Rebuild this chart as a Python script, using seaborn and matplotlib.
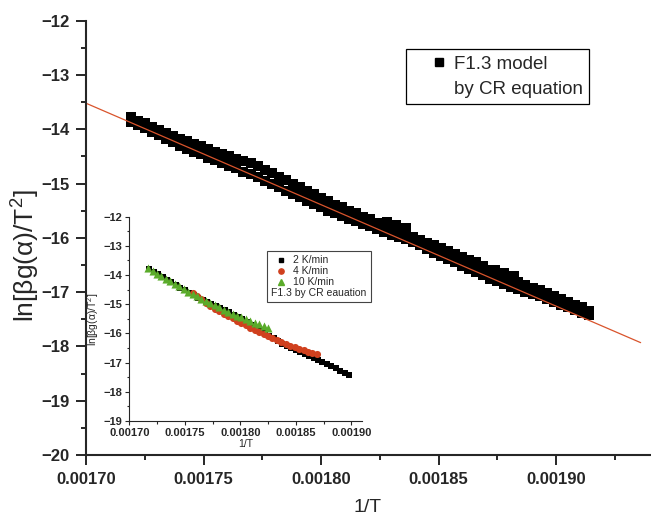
import seaborn as sns
import pandas as pd
import matplotlib.pyplot as plt
from matplotlib.lines import Line2D
from matplotlib.ticker import MultipleLocator, FormatStrFormatter

# ---- main plot data (F1.3 model, CR equation) ----
main_x = [0.001719, 0.001722, 0.001725, 0.001728, 0.001731, 0.001734, 0.001737, 0.001740, 0.001743, 0.001746,
          0.001749, 0.001752, 0.001755, 0.001758, 0.001761, 0.001764, 0.001767, 0.001770, 0.001773, 0.001776,
          0.001779, 0.001782, 0.001785, 0.001788, 0.001791, 0.001794, 0.001797, 0.001800, 0.001803, 0.001806,
          0.001809, 0.001812, 0.001815, 0.001818, 0.001821, 0.001824, 0.001827, 0.001830, 0.001833, 0.001836,
          0.001839, 0.001842, 0.001845, 0.001848, 0.001851, 0.001854, 0.001857, 0.001860, 0.001863, 0.001866,
          0.001869, 0.001872, 0.001875, 0.001878, 0.001881, 0.001884, 0.001887, 0.001890, 0.001893, 0.001896,
          0.001899, 0.001902, 0.001905, 0.001908, 0.001911, 0.001914]
main_upper = [-13.78, -13.84, -13.89, -13.95, -14.01, -14.06, -14.12, -14.17, -14.22, -14.27,
              -14.31, -14.36, -14.41, -14.45, -14.50, -14.54, -14.59, -14.63, -14.68, -14.75,
              -14.81, -14.88, -14.94, -15.01, -15.07, -15.14, -15.20, -15.27, -15.33, -15.39,
              -15.44, -15.50, -15.55, -15.61, -15.66, -15.72, -15.77, -15.83, -15.88, -15.94,
              -15.99, -16.04, -16.09, -16.14, -16.19, -16.24, -16.30, -16.35, -16.40, -16.45,
              -16.52, -16.59, -16.66, -16.72, -16.77, -16.82, -16.87, -16.92, -16.96, -17.01,
              -17.07, -17.12, -17.18, -17.23, -17.28, -17.34]
main_lower = [-13.86, -13.92, -13.98, -14.05, -14.11, -14.17, -14.24, -14.30, -14.36, -14.41,
              -14.46, -14.52, -14.57, -14.62, -14.67, -14.72, -14.78, -14.83, -14.88, -14.95,
              -15.01, -15.07, -15.13, -15.19, -15.25, -15.32, -15.38, -15.44, -15.50, -15.55,
              -15.60, -15.65, -15.69, -15.74, -15.79, -15.84, -15.89, -15.94, -15.98, -16.03,
              -16.08, -16.14, -16.20, -16.27, -16.33, -16.39, -16.45, -16.51, -16.57, -16.63,
              -16.69, -16.75, -16.80, -16.85, -16.90, -16.94, -16.99, -17.04, -17.08, -17.13,
              -17.18, -17.23, -17.28, -17.33, -17.38, -17.43]
stray_x = [0.001828, 0.001832, 0.001836, 0.001874, 0.001878, 0.001882]
stray_y = [-15.71, -15.77, -15.82, -16.59, -16.64, -16.70]
fit_x = [0.00170, 0.001936]
fit_y = [-13.52, -17.93]

# ---- inset data (three heating rates) ----
k2_x = [0.001718, 0.001722, 0.001726, 0.001730, 0.001734, 0.001738, 0.001742, 0.001746, 0.001750, 0.001754,
        0.001758, 0.001762, 0.001766, 0.001770, 0.001774, 0.001778, 0.001782, 0.001786, 0.001790, 0.001794,
        0.001798, 0.001802, 0.001806, 0.001810, 0.001814, 0.001818, 0.001822, 0.001826, 0.001830, 0.001834,
        0.001838, 0.001842, 0.001846, 0.001850, 0.001854, 0.001858, 0.001862, 0.001866, 0.001870, 0.001874,
        0.001878, 0.001882, 0.001886, 0.001890, 0.001894, 0.001898]
k2_y = [-13.80, -13.89, -13.98, -14.07, -14.16, -14.25, -14.34, -14.43, -14.52, -14.61,
        -14.70, -14.77, -14.85, -14.92, -14.99, -15.07, -15.14, -15.21, -15.28, -15.36,
        -15.43, -15.52, -15.62, -15.71, -15.80, -15.90, -15.99, -16.08, -16.17, -16.27,
        -16.36, -16.43, -16.50, -16.56, -16.63, -16.70, -16.77, -16.83, -16.90, -16.97,
        -17.05, -17.12, -17.20, -17.27, -17.35, -17.42]
k4_x = [0.001757, 0.001761, 0.001765, 0.001769, 0.001773, 0.001777, 0.001781, 0.001785, 0.001789, 0.001793,
        0.001797, 0.001801, 0.001805, 0.001809, 0.001813, 0.001817, 0.001821, 0.001825, 0.001829, 0.001833,
        0.001837, 0.001841, 0.001845, 0.001849, 0.001853, 0.001857, 0.001861, 0.001865, 0.001869]
k4_y = [-14.61, -14.72, -14.83, -14.94, -15.05, -15.15, -15.24, -15.32, -15.40, -15.48,
        -15.56, -15.64, -15.72, -15.81, -15.88, -15.95, -16.02, -16.09, -16.16, -16.23,
        -16.30, -16.36, -16.42, -16.47, -16.52, -16.57, -16.62, -16.67, -16.72]
k10_x = [0.001717, 0.001721, 0.001725, 0.001729, 0.001733, 0.001737, 0.001741, 0.001745, 0.001749, 0.001753,
         0.001757, 0.001761, 0.001765, 0.001769, 0.001773, 0.001777, 0.001781, 0.001785, 0.001789, 0.001793,
         0.001797, 0.001801, 0.001805, 0.001809, 0.001813, 0.001817, 0.001821, 0.001825]
k10_y = [-13.77, -13.86, -13.95, -14.04, -14.13, -14.22, -14.31, -14.39, -14.48, -14.57,
         -14.65, -14.73, -14.81, -14.88, -14.96, -15.03, -15.11, -15.18, -15.26, -15.33,
         -15.39, -15.45, -15.51, -15.57, -15.63, -15.69, -15.75, -15.81]

sns.set_style("ticks")
plt.rcParams['font.family'] = ['Liberation Sans', 'DejaVu Sans']
plt.rcParams['mathtext.fontset'] = 'custom'
plt.rcParams['mathtext.rm'] = 'Liberation Sans'
plt.rcParams['mathtext.it'] = 'Liberation Sans:italic'
plt.rcParams['xtick.direction'] = 'out'
plt.rcParams['ytick.direction'] = 'out'

fit_red = '#d9542c'
ylab = 'ln[βg(α)/T$^2$]'

fig = plt.figure(figsize=(6.51, 5.19), dpi=100)
ax = fig.add_axes([0.1321, 0.1233, 0.8664, 0.8368])

main_df = pd.DataFrame({'x': main_x + main_x + stray_x,
                        'y': main_upper + main_lower + stray_y})
sns.scatterplot(data=main_df, x='x', y='y', marker='s', s=46, color='black',
                linewidth=0, ax=ax, legend=False)
sns.lineplot(x=fit_x, y=fit_y, color=fit_red, linewidth=0.9, ax=ax)

ax.set_xlim(0.00170, 0.00194)
ax.set_ylim(-20, -12)
ax.xaxis.set_major_locator(MultipleLocator(0.00005))
ax.xaxis.set_minor_locator(MultipleLocator(0.000025))
ax.xaxis.set_major_formatter(FormatStrFormatter('%.5f'))
ax.yaxis.set_major_locator(MultipleLocator(1))
ax.yaxis.set_minor_locator(MultipleLocator(0.5))
sns.despine(ax=ax)
for sp in ['left', 'bottom']:
    ax.spines[sp].set_linewidth(1.5)
ax.tick_params(which='major', length=7, width=1.4, labelsize=12, pad=5)
ax.tick_params(which='minor', length=3.8, width=1.4)
for lab in ax.get_xticklabels() + ax.get_yticklabels():
    lab.set_fontweight('bold')
ax.set_xlabel('1/T', fontsize=14, labelpad=9)
ax.set_ylabel(ylab, fontsize=19)
ax.yaxis.set_label_coords(-0.078, 0.46)

main_handles = [Line2D([], [], marker='s', color='black', linestyle='none', markersize=5.5),
                Line2D([], [], linestyle='none')]
leg = ax.legend(main_handles, ['F1.3 model', 'by CR equation'], loc='upper left',
                bbox_to_anchor=(0.567, 0.935), borderaxespad=0, fontsize=13.5,
                frameon=True, fancybox=False, edgecolor='black', framealpha=1,
                handlelength=2.82, handletextpad=-0.61, borderpad=0.35, labelspacing=0.42)
leg.get_frame().set_linewidth(0.9)

# ---- inset ----
ins = fig.add_axes([0.1986, 0.1888, 0.3580, 0.3937])
ins.patch.set_alpha(0)
sns.scatterplot(x=k2_x, y=k2_y, marker='s', s=20, color='black', linewidth=0, ax=ins)
sns.scatterplot(x=k4_x, y=k4_y, marker='o', s=26, color='#d0401e', linewidth=0, ax=ins)
sns.scatterplot(x=k10_x, y=k10_y, marker='^', s=34, color='#5aab2a', linewidth=0, ax=ins)
ins.set_xlim(0.00170, 0.00191)
ins.set_ylim(-19, -12)
ins.xaxis.set_major_locator(MultipleLocator(0.00005))
ins.xaxis.set_minor_locator(MultipleLocator(0.000025))
ins.xaxis.set_major_formatter(FormatStrFormatter('%.5f'))
ins.yaxis.set_major_locator(MultipleLocator(1))
ins.yaxis.set_minor_locator(MultipleLocator(0.5))
sns.despine(ax=ins)
for sp in ['left', 'bottom']:
    ins.spines[sp].set_linewidth(0.8)
ins.tick_params(which='major', length=3, width=0.8, labelsize=8, pad=2)
ins.tick_params(which='minor', length=1.8, width=0.8)
for lab in ins.get_xticklabels() + ins.get_yticklabels():
    lab.set_fontweight('bold')
ins.set_xlabel('1/T', fontsize=7.5, labelpad=1)
ins.set_ylabel(ylab, fontsize=7.5, labelpad=2)

ins_handles = [Line2D([], [], marker='s', color='black', linestyle='none', markersize=3.4),
               Line2D([], [], marker='o', color='#d0401e', linestyle='none', markersize=3.8),
               Line2D([], [], marker='^', color='#5aab2a', linestyle='none', markersize=4.4),
               Line2D([], [], linestyle='none')]
ileg = ins.legend(ins_handles, ['2 K/min', '4 K/min', '10 K/min', 'F1.3 by CR eauation'],
                  loc='upper left', bbox_to_anchor=(0.591, 0.832), borderaxespad=0,
                  fontsize=7.5, frameon=True, fancybox=False, edgecolor='#444444',
                  framealpha=1, handlelength=1.9, handletextpad=0.2, borderpad=0.4,
                  labelspacing=0.1)
ileg.get_frame().set_linewidth(0.8)
# last legend line has no symbol, so its text starts at the left edge
try:
    row = ileg._legend_handle_box.get_children()[0].get_children()[3]
    row.sep = 0
    row.get_children()[0].width = 0
except Exception:
    pass

fig.savefig('out.png', dpi=100)
